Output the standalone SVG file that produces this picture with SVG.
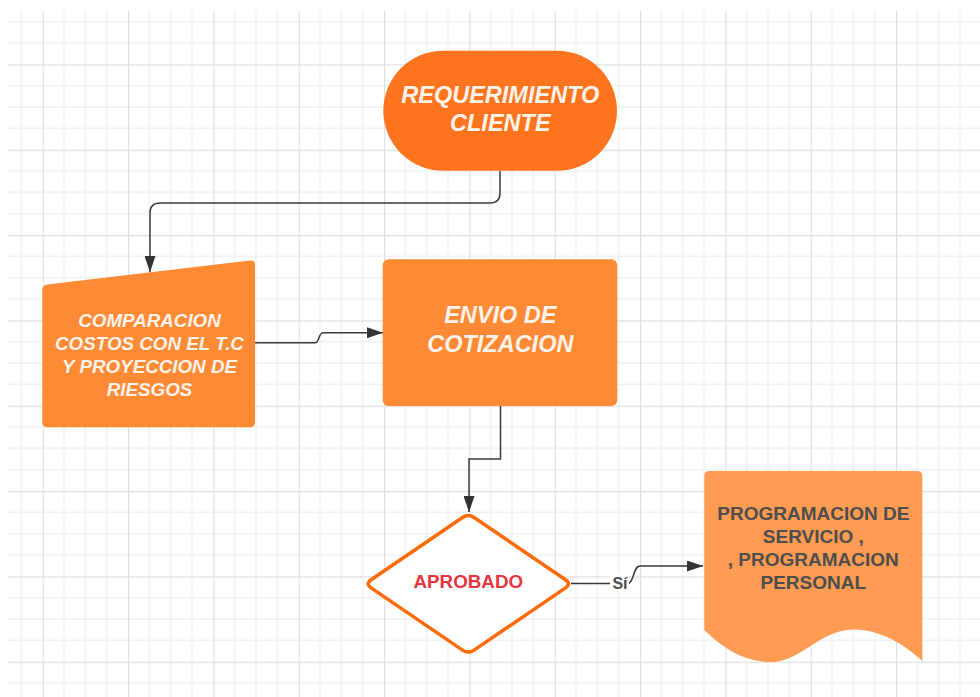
<svg xmlns="http://www.w3.org/2000/svg" width="980" height="697" viewBox="0 0 980 697">
<style>
.conn{fill:none;stroke:#3a3a3a;stroke-width:1.5}
.wt{font-family:"Liberation Sans",Arial,sans-serif;font-weight:bold;font-style:italic;fill:#fdf3ea;text-anchor:middle}
.dk{font-family:"Liberation Sans",Arial,sans-serif;font-weight:bold;fill:#4d4d4d;text-anchor:middle}
</style>
<defs>
<pattern id="grid" patternUnits="userSpaceOnUse" x="42.667" y="64.333" width="85.333" height="85.333">
<path d="M21.333,0V85.333M42.667,0V85.333M64,0V85.333M0,21.333H85.333M0,42.667H85.333M0,64H85.333" stroke="#f0f0f0" stroke-width="1.3" fill="none"/>
<path d="M0.5,0V85.333M0,0.5H85.333" stroke="#dfdfdf" stroke-width="1.3" fill="none"/>
</pattern>
<marker id="arr" markerUnits="userSpaceOnUse" markerWidth="16" markerHeight="11" refX="16" refY="5.5" orient="auto">
<path d="M0,0L16,5.5L0,11z" fill="#333333"/>
</marker>
</defs>
<rect width="980" height="697" fill="#ffffff"/>
<rect x="8" y="11" width="972" height="686" fill="url(#grid)"/>

<g id="connectors">
<path class="conn" d="M500,171V193Q500,203 490,203H160Q150,203 150,213V272" marker-end="url(#arr)"/>
<path class="conn" d="M255,342.7H315C319.5,342.7 318.5,332.7 323,332.7H383" marker-end="url(#arr)"/>
<path class="conn" d="M500.5,406V459H469V512" marker-end="url(#arr)"/>
<path class="conn" d="M571,583.5H628C634,583.5 633,566 640,566H703" marker-end="url(#arr)"/>
<rect x="610" y="573" width="19" height="18" fill="#ffffff"/>
<text class="dk" x="620" y="588.5" font-size="16" fill="#505050">Sí</text>
</g>

<g id="requerimiento">
<rect x="383.3" y="50.7" width="233.7" height="120" rx="60" ry="60" fill="#ff751f"/>
<text class="wt" font-size="23.5"><tspan x="500.3" y="102.7">REQUERIMIENTO</tspan><tspan x="500.3" y="130.7">CLIENTE</tspan></text>
</g>

<g id="comparacion">
<path d="M47,284.4L250,260.6Q255,260 255,265V422.3Q255,427.3 250,427.3H47.3Q42.3,427.3 42.3,422.3V290Q42.3,285 47,284.4Z" fill="#ff8a36"/>
<text class="wt" font-size="18.8"><tspan x="149.5" y="327.3">COMPARACION</tspan><tspan x="149.5" y="350">COSTOS CON EL T.C</tspan><tspan x="149.5" y="372.5">Y PROYECCION DE</tspan><tspan x="149.5" y="395.7">RIESGOS</tspan></text>
</g>

<g id="envio">
<rect x="382.7" y="259.3" width="234.6" height="146.7" rx="6" ry="6" fill="#ff8a36"/>
<text class="wt" font-size="23.5"><tspan x="500.3" y="323.3">ENVIO DE</tspan><tspan x="500.3" y="351.7">COTIZACION</tspan></text>
</g>

<g id="aprobado">
<path d="M474.1,517.5L565.5,579.7Q571.3,583.8 565.5,587.9L474.1,650.1Q468.3,654 462.5,650.1L371.1,587.9Q365.3,583.8 371.1,579.7L462.5,517.5Q468.3,513.6 474.1,517.5Z" fill="#ffffff" stroke="#ff6a0a" stroke-width="3.5"/>
<text x="468.3" y="588.3" font-family="Liberation Sans,Arial,sans-serif" font-weight="bold" font-size="18.8" fill="#e8343f" text-anchor="middle">APROBADO</text>
</g>

<g id="programacion">
<path d="M709.3,471H917.3Q922.3,471 922.3,476V661C905,645 880,629 853,629.5C820,630 800,662 772,662C745,662 725,650 704.3,630V476Q704.3,471 709.3,471Z" fill="#ff9b52"/>
<text class="dk" font-size="19"><tspan x="813.3" y="520">PROGRAMACION DE</tspan><tspan x="813.3" y="542.7">SERVICIO ,</tspan><tspan x="813.3" y="566">, PROGRAMACION</tspan><tspan x="813.3" y="588.5">PERSONAL</tspan></text>
</g>
</svg>
